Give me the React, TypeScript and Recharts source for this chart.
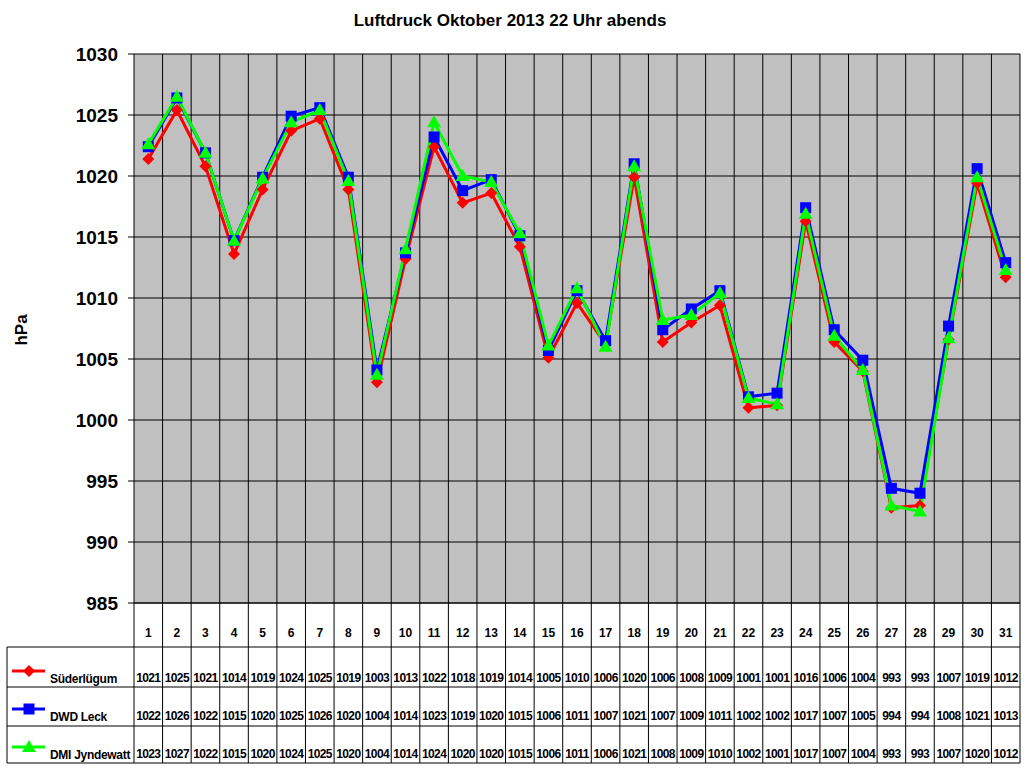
import { LineChart, Line, XAxis, YAxis, CartesianGrid } from 'recharts'

const days = ['1', '2', '3', '4', '5', '6', '7', '8', '9', '10', '11', '12', '13', '14', '15', '16', '17', '18', '19', '20', '21', '22', '23', '24', '25', '26', '27', '28', '29', '30', '31']

// plotted values
const suederluegum = [1021.4, 1025.4, 1020.8, 1013.6, 1018.9, 1023.7, 1024.7, 1018.9, 1003.1, 1013.2, 1022.4, 1017.8, 1018.6, 1014.2, 1005.1, 1009.6, 1006.2, 1019.9, 1006.4, 1008.0, 1009.4, 1001.0, 1001.2, 1016.3, 1006.4, 1004.0, 992.8, 993.0, 1006.6, 1019.4, 1011.7]
const dwdLeck = [1022.4, 1026.4, 1021.9, 1014.7, 1019.9, 1024.9, 1025.6, 1019.9, 1004.1, 1013.7, 1023.2, 1018.8, 1019.7, 1015.1, 1005.7, 1010.6, 1006.5, 1021.0, 1007.4, 1009.1, 1010.6, 1001.9, 1002.2, 1017.4, 1007.4, 1004.9, 994.4, 994.0, 1007.7, 1020.6, 1012.9]
const dmiJyndewatt = [1022.6, 1026.5, 1021.9, 1014.7, 1019.8, 1024.4, 1025.4, 1019.6, 1003.7, 1014.0, 1024.4, 1020.0, 1019.5, 1015.3, 1006.1, 1010.8, 1006.0, 1020.8, 1008.2, 1008.6, 1010.4, 1001.8, 1001.3, 1016.9, 1006.9, 1004.1, 993.0, 992.5, 1006.7, 1019.9, 1012.3]

// values printed in the data table
const tableSued = [1021, 1025, 1021, 1014, 1019, 1024, 1025, 1019, 1003, 1013, 1022, 1018, 1019, 1014, 1005, 1010, 1006, 1020, 1006, 1008, 1009, 1001, 1001, 1016, 1006, 1004, 993, 993, 1007, 1019, 1012]
const tableDwd = [1022, 1026, 1022, 1015, 1020, 1025, 1026, 1020, 1004, 1014, 1023, 1019, 1020, 1015, 1006, 1011, 1007, 1021, 1007, 1009, 1011, 1002, 1002, 1017, 1007, 1005, 994, 994, 1008, 1021, 1013]
const tableDmi = [1023, 1027, 1022, 1015, 1020, 1024, 1025, 1020, 1004, 1014, 1024, 1020, 1020, 1015, 1006, 1011, 1006, 1021, 1008, 1009, 1010, 1002, 1001, 1017, 1007, 1004, 993, 993, 1007, 1020, 1012]

const yTicks = [985, 990, 995, 1000, 1005, 1010, 1015, 1020, 1025, 1030]

const data = days.map((day, i) => ({
  day,
  sued: suederluegum[i],
  dwd: dwdLeck[i],
  dmi: dmiJyndewatt[i],
}))

const FONT = '"Liberation Sans", Arial, sans-serif'
const W = 1024
const H = 768
const LEFT = 134
const RIGHT = 1020
const BW = (RIGHT - LEFT) / days.length

const RED = '#ff0000'
const BLUE = '#0000ff'
const GREEN = '#00ff00'

const diamond = (cx: number, cy: number, key?: any) => (
  <polygon key={key} points={`${cx},${cy - 6} ${cx + 6},${cy} ${cx},${cy + 6} ${cx - 6},${cy}`} fill={RED} />
)
const square = (cx: number, cy: number, key?: any) => (
  <rect key={key} x={cx - 5.5} y={cy - 5.5} width={11} height={11} fill={BLUE} />
)
const triangle = (cx: number, cy: number, key?: any) => (
  <polygon key={key} points={`${cx},${cy - 7} ${cx + 7},${cy + 5} ${cx - 7},${cy + 5}`} fill={GREEN} />
)

const dotOf = (shape: typeof diamond) => (p: any) => {
  if (p.cx == null || p.cy == null) return <g key={`n${p.index}`} />
  return shape(p.cx, p.cy, `m${p.index}`)
}

const legendRows = [
  { name: 'Süderlügum', color: RED, shape: diamond, values: tableSued },
  { name: 'DWD Leck', color: BLUE, shape: square, values: tableDwd },
  { name: 'DMI Jyndewatt', color: GREEN, shape: triangle, values: tableDmi },
]

const TableColumn = (props: any) => {
  const { x, y, payload, index } = props
  const left = x - BW / 2
  const txt = { fontFamily: FONT, fontWeight: 'bold' as const, fill: '#000', textAnchor: 'middle' as const }
  return (
    <g>
      <line x1={left} y1={y} x2={left} y2={y + 160} stroke="#000" />
      {index === days.length - 1 && <line x1={x + BW / 2} y1={y} x2={x + BW / 2} y2={y + 160} stroke="#000" />}
      <text x={x} y={y + 34} fontSize={12} {...txt}>{payload.value}</text>
      {legendRows.map((r, k) => (
        <text key={k} x={x} y={y + 79 + k * 38} fontSize={12} letterSpacing={-0.6} {...txt}>
          {r.values[index]}
        </text>
      ))}
      {index === 0 && (
        <g>
          {[44, 84, 123, 160].map((dy) => (
            <line key={dy} x1={7} y1={y + dy} x2={RIGHT} y2={y + dy} stroke="#000" />
          ))}
          <line x1={7} y1={y + 44} x2={7} y2={y + 160} stroke="#000" />
          {legendRows.map((r, k) => {
            const ly = y + 68 + k * 38
            return (
              <g key={r.name}>
                <line x1={12} y1={ly} x2={45} y2={ly} stroke={r.color} strokeWidth={3} />
                {r.shape(29, ly)}
                <text x={50} y={y + 80 + k * 38} fontFamily={FONT} fontSize={12} letterSpacing={-0.3} fontWeight="bold" fill="#000">{r.name}</text>
              </g>
            )
          })}
        </g>
      )}
    </g>
  )
}

export default function App() {
  return (
    <div style={{ position: 'absolute', left: 0, top: 0, width: W, height: H, background: '#fff', fontFamily: FONT }}>
      <div style={{ position: 'absolute', left: -2, top: 11, width: W, textAlign: 'center', fontSize: 17, fontWeight: 'bold' }}>
        Luftdruck Oktober 2013 22 Uhr abends
      </div>
      <div style={{ position: 'absolute', left: 22 - 30, top: 320, width: 60, textAlign: 'center', fontSize: 17, fontWeight: 'bold', transform: 'rotate(-90deg)' }}>
        hPa
      </div>
      <LineChart width={W} height={H} data={data} margin={{ top: 54, right: W - RIGHT, bottom: 0, left: 0 }}>
        <CartesianGrid
          fill="#c0c0c0"
          stroke="#000"
          strokeOpacity={1}
          verticalCoordinatesGenerator={({ offset }: any) =>
            days.map((_, i) => offset.left + ((i + 1) * offset.width) / days.length)
          }
        />
        <XAxis
          dataKey="day"
          scale="band"
          interval={0}
          height={165}
          tickLine={false}
          tickSize={0}
          tickMargin={0}
          axisLine={{ stroke: '#000' }}
          tick={<TableColumn />}
        />
        <YAxis
          domain={[985, 1030]}
          ticks={yTicks}
          width={LEFT}
          interval={0}
          tickSize={6}
          tickMargin={10}
          axisLine={{ stroke: '#000' }}
          tickLine={{ stroke: '#000' }}
          tick={{ fontFamily: FONT, fontSize: 19, fontWeight: 'bold', fill: '#000' }}
        />
        <Line dataKey="sued" stroke={RED} strokeWidth={3} dot={dotOf(diamond)} activeDot={false} isAnimationActive={false} />
        <Line dataKey="dwd" stroke={BLUE} strokeWidth={3} dot={dotOf(square)} activeDot={false} isAnimationActive={false} />
        <Line dataKey="dmi" stroke={GREEN} strokeWidth={3} dot={dotOf(triangle)} activeDot={false} isAnimationActive={false} />
      </LineChart>
    </div>
  )
}
